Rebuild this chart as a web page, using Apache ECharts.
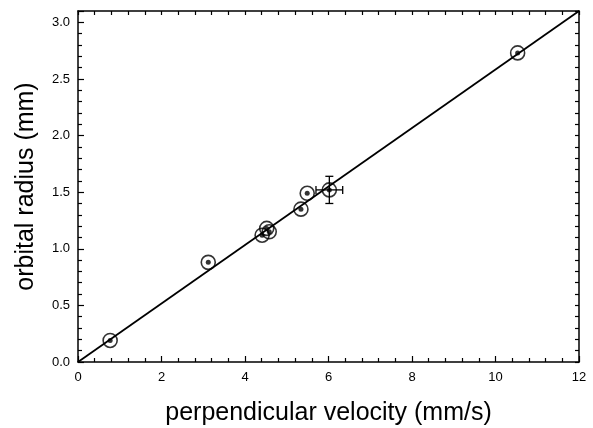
<!DOCTYPE html>
<html>
<head>
<meta charset="utf-8">
<script src="https://cdn.jsdelivr.net/npm/echarts@6/dist/echarts.min.js"></script>
<style>
  html, body { margin: 0; padding: 0; background: #fff; }
  #chart { width: 593px; height: 428px; }
</style>
</head>
<body>
<div id="chart"></div>
<script>
// measured points: perpendicular velocity (mm/s) vs orbital radius (mm)
const velocity = [0.77, 3.12, 4.41, 4.52, 4.58, 5.34, 5.49, 6.02, 10.53];
const radius = [0.19, 0.88, 1.12, 1.18, 1.15, 1.35, 1.49, 1.52, 2.73];
// error bars (only one point has them)
const errPoint = [6.02, 1.52];
const errX = 0.32;
const errY = 0.12;
// fitted line
const fitX = [0, 12];
const fitY = [0, 3.1];

const font = 'Liberation Sans, Arial, Helvetica, sans-serif';
const points = velocity.map((v, i) => [v, radius[i]]);

const chart = echarts.init(document.getElementById('chart'));

function axisCommon(min, max, interval, showLabel, fmt) {
  return {
    type: 'value',
    min: min,
    max: max,
    interval: interval,
    splitLine: { show: false },
    axisLine: { show: true, onZero: false, lineStyle: { color: '#000', width: 1.5 } },
    axisTick: { show: true, inside: true, length: 6, lineStyle: { color: '#000', width: 1.2 } },
    minorTick: { show: true, splitNumber: 5, length: 4, lineStyle: { color: '#000', width: 1.2 } },
    axisLabel: {
      show: showLabel,
      color: '#000',
      fontFamily: font,
      fontSize: 13,
      formatter: fmt,
      showMaxLabel: true
    }
  };
}

const xBottom = Object.assign(axisCommon(0, 12, 2, true, v => String(v)), {
  position: 'bottom',
  name: 'perpendicular velocity (mm/s)',
  nameLocation: 'middle',
  nameGap: 39,
  nameTextStyle: { color: '#000', fontFamily: font, fontSize: 25 }
});
xBottom.axisLabel.margin = 9;
const xTop = Object.assign(axisCommon(0, 12, 2, false), { position: 'top' });
xTop.axisTick.length = 4;

const yLeft = Object.assign(axisCommon(0, 3.1, 0.5, true, v => v.toFixed(1)), {
  position: 'left',
  name: 'orbital radius (mm)',
  nameLocation: 'middle',
  nameGap: 39,
  nameRotate: 90,
  nameTextStyle: { color: '#000', fontFamily: font, fontSize: 25 }
});
yLeft.axisLabel.showMaxLabel = false;
yLeft.axisLabel.margin = 8;
const yRight = Object.assign(axisCommon(0, 3.1, 0.5, false), { position: 'right' });
yRight.axisTick.length = 4;

chart.setOption({
  animation: false,
  backgroundColor: '#fff',
  grid: { left: 78, right: 14, top: 11, bottom: 66, containLabel: false, outerBoundsMode: 'none' },
  xAxis: [xBottom, xTop],
  yAxis: [yLeft, yRight],
  series: [
    {
      type: 'line',
      data: fitX.map((x, i) => [x, fitY[i]]),
      symbol: 'none',
      lineStyle: { color: '#000', width: 1.8 },
      z: 1
    },
    {
      type: 'custom',
      data: [[errPoint[0], errPoint[1], errX, errY]],
      renderItem: function (params, api) {
        const x = api.value(0), y = api.value(1), ex = api.value(2), ey = api.value(3);
        const l = api.coord([x - ex, y]), r = api.coord([x + ex, y]);
        const t = api.coord([x, y + ey]), b = api.coord([x, y - ey]);
        const cap = 4;
        const st = { stroke: '#000', lineWidth: 1.3 };
        return {
          type: 'group',
          children: [
            { type: 'line', shape: { x1: l[0], y1: l[1], x2: r[0], y2: r[1] }, style: st },
            { type: 'line', shape: { x1: l[0], y1: l[1] - cap, x2: l[0], y2: l[1] + cap }, style: st },
            { type: 'line', shape: { x1: r[0], y1: r[1] - cap, x2: r[0], y2: r[1] + cap }, style: st },
            { type: 'line', shape: { x1: t[0], y1: t[1], x2: b[0], y2: b[1] }, style: st },
            { type: 'line', shape: { x1: t[0] - cap, y1: t[1], x2: t[0] + cap, y2: t[1] }, style: st },
            { type: 'line', shape: { x1: b[0] - cap, y1: b[1], x2: b[0] + cap, y2: b[1] }, style: st }
          ]
        };
      },
      z: 2
    },
    {
      type: 'scatter',
      data: points,
      symbol: 'circle',
      symbolSize: 14,
      itemStyle: { color: 'rgba(0,0,0,0)', borderColor: '#000', borderWidth: 1.6 },
      z: 3
    },
    {
      type: 'scatter',
      data: points,
      symbol: 'circle',
      symbolSize: 5,
      itemStyle: { color: '#000' },
      z: 4
    }
  ]
});
</script>
</body>
</html>
